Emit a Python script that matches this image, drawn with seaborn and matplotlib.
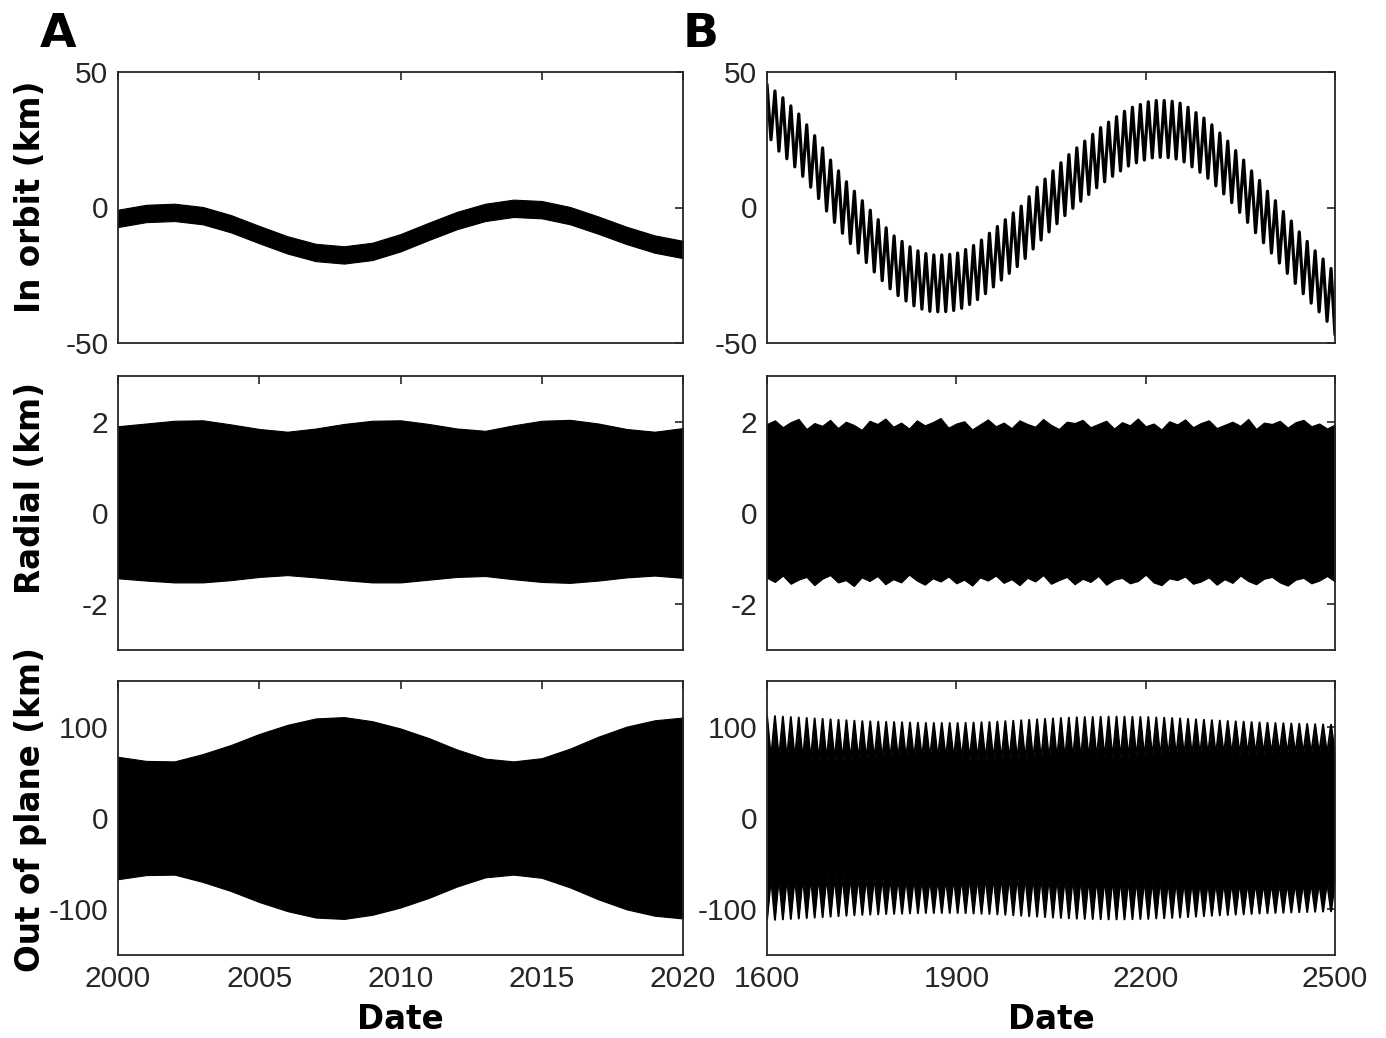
import numpy as np
import pandas as pd
import matplotlib
matplotlib.use('Agg')
import matplotlib.pyplot as plt
import seaborn as sns

# 1. DATA =====================================================================

# Panel A: 2000-2020, envelope read once per year
a_years = list(range(2000, 2021))
a_orbit_hi = [-0.8, 1.0, 1.4, 0.2, -2.8, -6.8, -10.6, -13.4, -14.3, -13.0, -9.8,
              -5.6, -1.6, 1.4, 2.9, 2.4, 0.2, -3.3, -7.1, -10.3, -12.3]
a_orbit_lo = [-7.2, -5.4, -5.0, -6.2, -9.2, -13.2, -17.0, -19.8, -20.7, -19.4, -16.2,
              -12.0, -8.0, -5.0, -3.5, -4.0, -6.2, -9.7, -13.5, -16.7, -18.7]
a_radial_hi = [1.90, 1.96, 2.02, 2.03, 1.94, 1.84, 1.78, 1.85, 1.95, 2.02, 2.03,
               1.95, 1.85, 1.80, 1.92, 2.02, 2.04, 1.96, 1.84, 1.78, 1.86]
a_radial_lo = [-1.43, -1.48, -1.52, -1.52, -1.47, -1.40, -1.36, -1.41, -1.47, -1.52, -1.52,
               -1.46, -1.40, -1.38, -1.45, -1.51, -1.53, -1.48, -1.41, -1.37, -1.42]
a_plane_env = [67, 62.5, 62, 70, 80, 92, 102, 109, 110.5, 106, 98,
               87.5, 75, 65, 62, 65.5, 76, 89, 100, 107, 110]

# Panel B: 1600-2500, one value per ~12.6 yr oscillation (peak / trough)
b_start, b_end = 1600, 2500
b_orbit_peaks = [45.5, 43, 40.5, 37.5, 34.5, 30.5, 26.5, 22, 17.5, 13.5,
                 9.5, 6, 2.5, -1, -4.5, -7.5, -10.5, -12.5, -14.5, -16,
                 -17, -17.5, -17.5, -17.3, -16.8, -15.5, -14, -12, -9.5, -7,
                 -4.5, -2, 0.5, 4, 7.5, 10.5, 13.5, 16.5, 19.5, 22,
                 24.5, 27, 29.5, 31.5, 33.5, 35.5, 37, 38, 39, 39.5,
                 39.5, 39.2, 38.5, 37, 35, 33, 30.5, 27.5, 24.5, 21,
                 17.5, 13.5, 10, 6, 2.5, -1.5, -5, -9, -12.5, -16,
                 -19, -22.5]
b_orbit_troughs = [25, 20.8, 18, 15, 11.5, 7.5, 3.3, -1.3, -5.5, -9.5,
                   -13.3, -16.8, -20.3, -23.8, -27, -30, -32.5, -34.5, -36.3, -37.5,
                   -38.3, -38.5, -38.4, -38, -37.2, -35.8, -34, -31.8, -29.3, -26.8,
                   -24.3, -21.8, -18.8, -15.3, -12, -9, -6, -3, -0.3, 2.3,
                   4.8, 7.3, 9.5, 11.5, 13.5, 15.3, 16.5, 17.5, 18.3, 18.5,
                   18.4, 17.9, 16.8, 15, 13, 10.8, 8, 5, 1.8, -1.8,
                   -5.5, -9.3, -13, -16.8, -20.5, -24.3, -28, -31.8, -35.3, -38.5,
                   -42, -47]

b_plane_peaks = [112, 111.5, 111, 110.5, 110, 109.5, 109, 108.5, 108, 107.5,
                 107, 106.5, 106, 105.8, 105.5, 105.2, 105, 104.8, 104.5, 104.2,
                 104, 104, 104, 104, 104, 104.2, 104.5, 104.8, 105, 105.5,
                 106, 106.5, 107, 107.5, 108, 108.5, 109, 109.4, 109.8, 110.2,
                 110.5, 110.6, 110.8, 111, 111, 111, 110.8, 110.6, 110.5, 110,
                 109.8, 109.4, 109, 108.5, 108, 107.5, 107, 106.6, 106.2, 105.8,
                 105.5, 105, 104.6, 104.3, 104, 103.8, 103.5, 103.2, 103, 102.7,
                 102.5, 102.2]
b_plane_valleys = [65, 64.5, 64, 64, 63.5, 63.5, 63, 63, 63, 63,
                   63, 63, 63.5, 63.5, 64, 64, 64, 64.5, 64.5, 65,
                   65, 65, 65, 64.5, 64.5, 64, 64, 63.5, 63.5, 63,
                   63, 63, 63, 63, 63, 63, 63.5, 63.5, 64, 64,
                   64.5, 64.5, 65, 65, 65.5, 65.5, 66, 66, 66.5, 66.5,
                   67, 67, 67.5, 67.5, 68, 68, 68.5, 68.5, 69, 69,
                   69.5, 69.5, 70, 70, 70, 70, 70, 70, 70, 70,
                   70, 70]

# radial envelope every 12.5 yr
b_radial_years = [1600 + 12.5 * k for k in range(73)]
b_radial_hi = [1.95, 2.03, 1.88, 1.99, 2.06, 1.84, 1.97, 1.91, 2.04, 1.86,
               2.00, 1.93, 1.82, 2.02, 1.95, 2.07, 1.89, 1.98, 1.85, 2.03,
               1.92, 1.99, 2.08, 1.87, 1.96, 2.01, 1.83, 1.94, 2.05, 1.90,
               1.98, 1.86, 2.03, 1.95, 1.89, 2.06, 1.93, 1.84, 2.00, 1.97,
               2.04, 1.88, 1.95, 2.02, 1.85, 1.99, 1.92, 2.07, 1.90, 1.96,
               1.83, 2.01, 1.94, 2.05, 1.88, 1.97, 2.03, 1.86, 1.93, 2.00,
               1.91, 2.06, 1.84, 1.98, 1.95, 2.02, 1.87, 1.99, 2.04, 1.90,
               1.96, 1.85, 1.94]
b_radial_lo = [-1.42, -1.51, -1.37, -1.55, -1.46, -1.40, -1.58, -1.44, -1.36, -1.52,
               -1.47, -1.60, -1.41, -1.49, -1.38, -1.56, -1.45, -1.52, -1.35, -1.48,
               -1.57, -1.43, -1.50, -1.39, -1.54, -1.46, -1.59, -1.41, -1.48, -1.37,
               -1.53, -1.45, -1.58, -1.42, -1.50, -1.36, -1.55, -1.47, -1.40, -1.56,
               -1.44, -1.51, -1.38, -1.57, -1.46, -1.42, -1.54, -1.49, -1.35, -1.52,
               -1.58, -1.43, -1.47, -1.39, -1.55, -1.50, -1.41, -1.57, -1.45, -1.53,
               -1.37, -1.49, -1.56, -1.44, -1.40, -1.52, -1.59, -1.46, -1.42, -1.54,
               -1.48, -1.38, -1.50]

row_labels = ['In orbit (km)', 'Radial (km)', 'Out of plane (km)']
row_label_y = [0.54, 0.59, 0.53]
row_ylims = [(-50, 50), (-3, 3), (-150, 150)]
row_yticks = [[-50, 0, 50], [-2, 0, 2], [-100, 0, 100]]
a_xticks = [2000, 2005, 2010, 2015, 2020]
b_xticks = [1600, 1900, 2200, 2500]

INK = '#262626'


# 2. HELPERS ==================================================================

def zigzag(peaks, troughs):
    """Interleave peak/trough values on the oscillation time grid"""
    n = len(peaks)
    step = (b_end - b_start) / (n - 0.5)
    x = np.empty(2 * n)
    y = np.empty(2 * n)
    x[0::2] = b_start + step * np.arange(n)
    x[1::2] = b_start + step * (np.arange(n) + 0.5)
    y[0::2] = peaks
    y[1::2] = troughs
    return pd.DataFrame({'Date': x, 'km': y})


def style_axis(ax, row, xlim, xticks, show_x):
    ax.set_xlim(*xlim)
    ax.set_ylim(*row_ylims[row])
    ax.set_xticks(xticks)
    ax.set_yticks(row_yticks[row])
    ax.tick_params(direction='in', top=True, right=True, length=6, width=1.2,
                   color=INK, labelcolor=INK, labelsize=21.5, pad=7,
                   labelbottom=show_x)
    for s in ax.spines.values():
        s.set_visible(True)
        s.set_color(INK)
        s.set_linewidth(1.3)
    ax.set_xlabel('')
    ax.set_ylabel('')
    for lab in ax.get_xticklabels() + ax.get_yticklabels():
        lab.set_family('Liberation Sans')
    if show_x:
        ax.set_xlabel('Date', fontsize=23.5, fontweight='bold', color='black')
        ax.xaxis.set_label_coords(0.5, -0.175)


# 3. FIGURE ===================================================================

sns.set_theme(style='white')
plt.rcParams['font.family'] = ['DejaVu Sans']
plt.rcParams['axes.unicode_minus'] = False

fig = plt.figure(figsize=(13.86, 10.38), dpi=100)
W, H = 1386, 1038
rows_px = [(72, 343), (376, 650), (681, 955)]
cols_px = [(118, 683), (767, 1335)]

axes = []
for r, (top, bot) in enumerate(rows_px):
    row = []
    for c, (left, right) in enumerate(cols_px):
        ax = fig.add_axes([left / W, 1 - bot / H, (right - left) / W, (bot - top) / H])
        row.append(ax)
    axes.append(row)

# column A
ax = axes[0][0]
ax.fill_between(a_years, a_orbit_lo, a_orbit_hi, color='black', lw=0.8)
ax = axes[1][0]
ax.fill_between(a_years, a_radial_lo, a_radial_hi, color='black', lw=0.8)
ax = axes[2][0]
ax.fill_between(a_years, [-v for v in a_plane_env], a_plane_env, color='black', lw=0.8)

# column B
ax = axes[0][1]
orbit_df = zigzag(b_orbit_peaks, b_orbit_troughs)
sns.lineplot(data=orbit_df, x='Date', y='km', ax=ax, color='black', lw=2.3,
             estimator=None, sort=False)
ax = axes[1][1]
ax.fill_between(b_radial_years, b_radial_lo, b_radial_hi, color='black', lw=0.8)
ax = axes[2][1]
plane_df = zigzag(b_plane_peaks, b_plane_valleys)
ax.fill_between(plane_df['Date'], -plane_df['km'], plane_df['km'], color='black', lw=0)
sns.lineplot(x=plane_df['Date'], y=plane_df['km'], ax=ax, color='black', lw=1.4,
             estimator=None, sort=False)
sns.lineplot(x=plane_df['Date'], y=-plane_df['km'], ax=ax, color='black', lw=1.4,
             estimator=None, sort=False)

for r in range(3):
    style_axis(axes[r][0], r, (2000, 2020), a_xticks, r == 2)
    style_axis(axes[r][1], r, (1600, 2500), b_xticks, r == 2)
    axes[r][0].set_ylabel(row_labels[r], fontsize=23.5, fontweight='bold', color='black')
    axes[r][0].yaxis.set_label_coords(-0.125, row_label_y[r])

fig.text(40 / W, 1 - 47 / H, 'A', fontsize=34, fontweight='bold', color='black', va='baseline')
fig.text(683 / W, 1 - 47 / H, 'B', fontsize=34, fontweight='bold', color='black', va='baseline')

fig.savefig('out.png', dpi=100)
